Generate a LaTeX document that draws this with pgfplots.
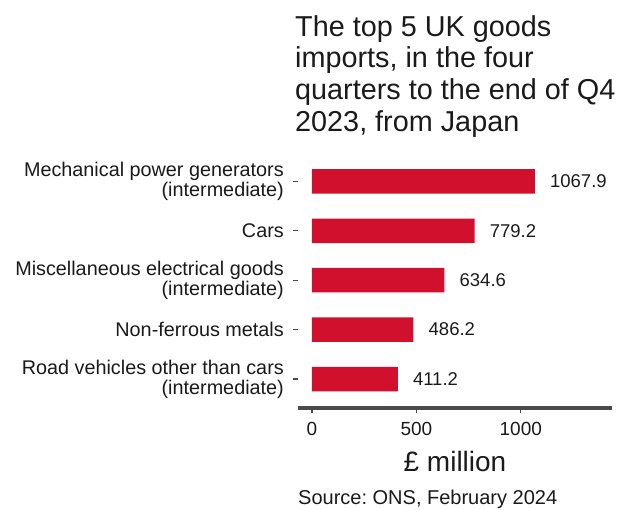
\documentclass[border=0pt]{standalone}
\usepackage{fontspec}
\setmainfont{Liberation Sans}
\usepackage{pgfplots}
\pgfplotsset{compat=1.18}
\definecolor{barred}{HTML}{D0102C}
\definecolor{axgray}{HTML}{4A4A4A}
\definecolor{txt}{HTML}{1A1A1A}
\frenchspacing
\begin{document}
\begin{tikzpicture}[x=1pt,y=1pt]
\path (0,0) rectangle (625,509);
\begin{axis}[
  at={(298pt,101pt)}, anchor=south west,
  scale only axis, width=314pt, height=248pt,
  xbar, bar width=24.5pt,
  xmin=-67, xmax=1437, ymin=0.413, ymax=5.435,
  axis x line*=bottom, axis y line*=left,
  y axis line style={draw=none},
  every outer x axis line/.append style={line width=3.4pt, color=axgray, -},
  x axis line style={line width=3.4pt, color=axgray, -},
  tick align=outside, major tick length=5pt,
  tick style={color=axgray, line width=1.1pt},
  ytick={1,2,3,4,5},
  yticklabels={{Road vehicles other than cars\\(intermediate)}, {Non-ferrous metals}, {Miscellaneous electrical goods\\(intermediate)}, {Cars}, {Mechanical power generators\\(intermediate)}},
  yticklabel style={align=right, font=\fontsize{19.8}{20}\selectfont, text=txt, inner sep=0pt, xshift=-9pt},
  xtick={0,500,1000},
  xticklabel style={font=\fontsize{19}{20}\selectfont, text=txt, yshift=-6pt},
  /pgf/number format/assume math mode=true,
  /pgf/number format/1000 sep={},
  xlabel={£ million},
  xlabel style={at={(axis description cs:0.5,0)}, anchor=base, yshift=-64pt, font=\fontsize{28}{30}\selectfont, text=txt},
  nodes near coords={\pgfmathprintnumber[fixed,precision=1,fixed zerofill]{\pgfplotspointmeta}},
  nodes near coords style={anchor=west, inner sep=0pt, xshift=15pt, font=\fontsize{18.5}{20}\selectfont, text=txt},
]
\addplot[fill=barred, draw=none, point meta=x] coordinates {
  (411.2,1) (486.2,2) (634.6,3) (779.2,4) (1067.9,5)
};
\end{axis}
\node[anchor=north west, inner sep=0pt, align=left, font=\fontsize{28.8}{31.7}\selectfont, text=txt] at (295,494) {The top 5 UK goods\\imports, in the four\\quarters to the end of Q4\\2023, from Japan};
\node[anchor=base west, inner sep=0pt, font=\fontsize{20}{22}\selectfont, text=txt] at (298,4) {Source: ONS, February 2024};
\end{tikzpicture}
\end{document}
